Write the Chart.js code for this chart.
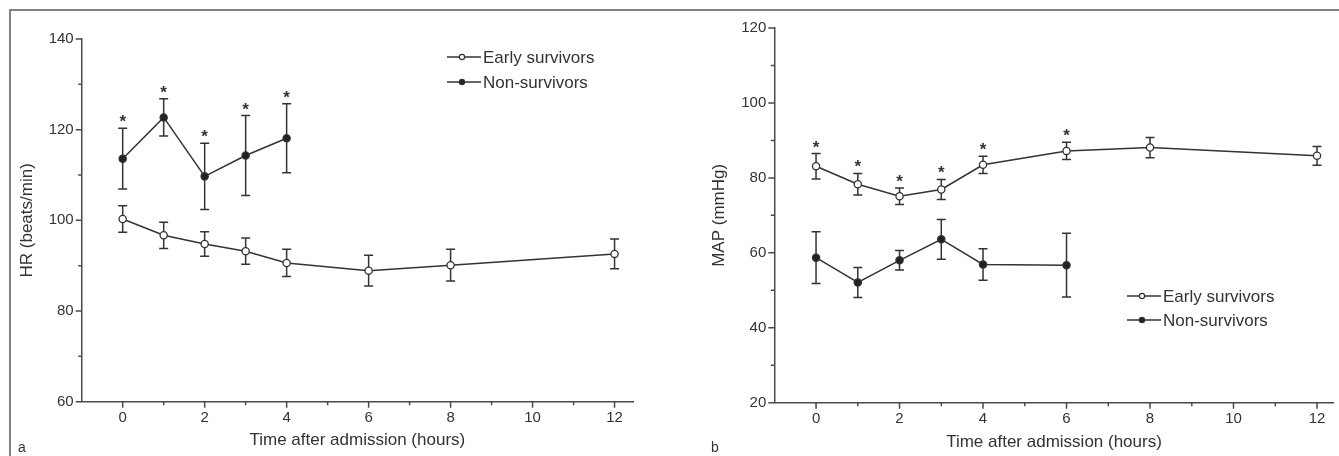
<!DOCTYPE html>
<html lang="en">
<head>
<meta charset="UTF-8">
<title>HR and MAP after admission</title>
<script src="https://cdn.jsdelivr.net/npm/chart.js"></script>
<style>
  html, body { margin: 0; padding: 0; background: #fff; }
  #page { position: relative; width: 1339px; height: 456px; overflow: hidden; font-family: Arial, "Liberation Sans", sans-serif; color: #333; }
  .panel { position: absolute; top: 0; }
  #panelA { left: 0; }
  #panelB { left: 670px; }
  .frame-top { position: absolute; left: 9px; top: 9px; width: 1330px; height: 2px; background: #808080; }
  .frame-left { position: absolute; left: 9px; top: 9px; width: 2px; height: 447px; background: #808080; }
  .tag { position: absolute; top: 439px; font-size: 14px; color: #333; }
</style>
</head>
<body>
<div id="page">
  <canvas id="panelA" class="panel" width="670" height="456"></canvas>
  <canvas id="panelB" class="panel" width="669" height="456"></canvas>
  <div class="frame-top"></div>
  <div class="frame-left"></div>
  <div class="tag" style="left:18px">a</div>
  <div class="tag" style="left:711px">b</div>
</div>

<script>
// ---- data ----
var hourTicks = [0, 1, 2, 3, 4, 5, 6, 7, 8, 9, 10, 11, 12];

// panel a: heart rate
var hrEarlyHours = [0, 1, 2, 3, 4, 6, 8, 12];
var hrEarly      = [100.3, 96.7, 94.8, 93.2, 90.6, 88.9, 90.1, 92.6];
var hrEarlyErr   = [2.9, 2.9, 2.7, 2.9, 3.0, 3.4, 3.5, 3.3];
var hrEarlySig   = [false, false, false, false, false, false, false, false];
var hrNonHours   = [0, 1, 2, 3, 4];
var hrNon        = [113.6, 122.7, 109.7, 114.3, 118.1];
var hrNonErr     = [6.7, 4.1, 7.3, 8.8, 7.6];
var hrNonSig     = [true, true, true, true, true];
var hrTicks      = [60, 70, 80, 90, 100, 110, 120, 130, 140];

// panel b: mean arterial pressure
var mapEarlyHours = [0, 1, 2, 3, 4, 6, 8, 12];
var mapEarly      = [83.1, 78.3, 75.1, 76.9, 83.5, 87.2, 88.1, 85.9];
var mapEarlyErr   = [3.4, 2.9, 2.2, 2.7, 2.3, 2.3, 2.7, 2.5];
var mapEarlySig   = [true, true, true, true, true, true, false, false];
var mapNonHours   = [0, 1, 2, 3, 4, 6];
var mapNon        = [58.7, 52.1, 58.0, 63.6, 56.9, 56.7];
var mapNonErr     = [6.9, 4.0, 2.6, 5.3, 4.2, 8.5];
var mapNonSig     = [false, false, false, false, false, false];
var mapTicks      = [20, 30, 40, 50, 60, 70, 80, 90, 100, 110, 120];

var ink = '#333';
var axisInk = '#4a4a4a';
Chart.defaults.font.family = 'Arial, "Liberation Sans", sans-serif';
Chart.defaults.color = ink;

function points(hours, vals) {
  return hours.map(function (h, i) { return { x: h, y: vals[i] }; });
}

// error bars under the lines, asterisks above them
var errorBars = {
  id: 'errorBars',
  beforeDatasetsDraw: function (chart) {
    var ctx = chart.ctx, x = chart.scales.x, y = chart.scales.y;
    ctx.save();
    ctx.strokeStyle = ink;
    ctx.lineWidth = 1.5;
    chart.data.datasets.forEach(function (ds) {
      ds.data.forEach(function (p, i) {
        var px = x.getPixelForValue(p.x);
        var top = y.getPixelForValue(p.y + ds.errors[i]);
        var bot = y.getPixelForValue(p.y - ds.errors[i]);
        ctx.beginPath();
        ctx.moveTo(px, top); ctx.lineTo(px, bot);
        ctx.moveTo(px - 4.5, top); ctx.lineTo(px + 4.5, top);
        ctx.moveTo(px - 4.5, bot); ctx.lineTo(px + 4.5, bot);
        ctx.stroke();
      });
    });
    ctx.restore();
  },
  afterDatasetsDraw: function (chart) {
    var ctx = chart.ctx, x = chart.scales.x, y = chart.scales.y;
    ctx.save();
    ctx.fillStyle = ink;
    ctx.font = 'bold 17px Arial, "Liberation Sans", sans-serif';
    ctx.textAlign = 'center';
    ctx.textBaseline = 'alphabetic';
    chart.data.datasets.forEach(function (ds) {
      ds.data.forEach(function (p, i) {
        if (!ds.sig[i]) return;
        var px = x.getPixelForValue(p.x);
        var top = y.getPixelForValue(p.y + ds.errors[i]);
        ctx.fillText('*', px, top - 1);
      });
    });
    ctx.restore();
  }
};

// short outward tick marks, longer at labelled values
var tickMarks = {
  id: 'tickMarks',
  afterDraw: function (chart) {
    var ctx = chart.ctx, x = chart.scales.x, y = chart.scales.y;
    ctx.save();
    ctx.strokeStyle = axisInk;
    ctx.lineWidth = 1.5;
    ctx.beginPath();
    x.ticks.forEach(function (t) {
      var px = x.getPixelForValue(t.value);
      var len = t.value % 2 === 0 ? 6 : 3.5;
      ctx.moveTo(px, x.top); ctx.lineTo(px, x.top + len);
    });
    y.ticks.forEach(function (t) {
      var py = y.getPixelForValue(t.value);
      var len = t.value % 20 === 0 ? 6 : 3.5;
      ctx.moveTo(y.right - len, py); ctx.lineTo(y.right, py);
    });
    ctx.stroke();
    ctx.restore();
  }
};

// legend drawn by hand so it can sit inside the plot
var sideLegend = {
  id: 'sideLegend',
  afterDraw: function (chart, args, opts) {
    var ctx = chart.ctx;
    ctx.save();
    ctx.font = '17px Arial, "Liberation Sans", sans-serif';
    ctx.textBaseline = 'middle';
    ctx.textAlign = 'left';
    chart.data.datasets.forEach(function (ds, i) {
      var ly = opts.y + i * opts.gap;
      ctx.strokeStyle = ink;
      ctx.lineWidth = 1.5;
      ctx.beginPath();
      ctx.moveTo(opts.x, ly); ctx.lineTo(opts.x + 34, ly);
      ctx.stroke();
      ctx.beginPath();
      ctx.arc(opts.x + 15, ly, 2.6, 0, Math.PI * 2);
      ctx.fillStyle = ds.pointBackgroundColor;
      ctx.fill();
      ctx.lineWidth = 1.2;
      ctx.stroke();
      ctx.fillStyle = ink;
      ctx.fillText(ds.label, opts.x + 36, ly + 1);
    });
    ctx.restore();
  }
};

function series(label, hours, vals, errs, sig, fill) {
  return {
    label: label,
    data: points(hours, vals),
    errors: errs,
    sig: sig,
    borderColor: ink,
    borderWidth: 1.5,
    pointRadius: 3.6,
    pointBorderWidth: 1.3,
    pointBorderColor: ink,
    pointBackgroundColor: fill,
    tension: 0,
    fill: false
  };
}

function makePanel(id, cfg) {
  return new Chart(document.getElementById(id), {
    type: 'line',
    data: { datasets: cfg.datasets },
    plugins: [errorBars, tickMarks, sideLegend],
    options: {
      responsive: false,
      animation: false,
      layout: { padding: { top: cfg.padTop, right: cfg.padRight, left: 0, bottom: 0 } },
      plugins: {
        legend: { display: false },
        tooltip: { enabled: false },
        sideLegend: cfg.legend
      },
      scales: {
        x: {
          type: 'linear',
          min: -1,
          max: cfg.xMax,
          afterBuildTicks: function (s) { s.ticks = hourTicks.map(function (v) { return { value: v }; }); },
          afterFit: function (s) { s.height = cfg.xHeight; },
          ticks: {
            autoSkip: false,
            maxRotation: 0,
            padding: 7,
            font: { size: 15 },
            color: ink,
            callback: function (v) { return v % 2 === 0 ? String(v) : ''; }
          },
          grid: { drawOnChartArea: false, drawTicks: false },
          border: { color: axisInk, width: 1.5 },
          title: { display: true, text: 'Time after admission (hours)', font: { size: 17 }, color: ink, padding: { top: 0, bottom: cfg.xTitlePad } }
        },
        y: {
          min: cfg.yTicks[0],
          max: cfg.yTicks[cfg.yTicks.length - 1],
          afterBuildTicks: function (s) { s.ticks = cfg.yTicks.map(function (v) { return { value: v }; }); },
          afterFit: function (s) { s.width = cfg.yWidth; },
          ticks: {
            autoSkip: false,
            padding: 8,
            font: { size: 15 },
            color: ink,
            callback: function (v) { return v % 20 === 0 ? String(v) : ''; }
          },
          grid: { drawOnChartArea: false, drawTicks: false },
          border: { color: axisInk, width: 1.5 },
          title: { display: true, text: cfg.yTitle, font: { size: 17 }, color: ink, padding: { top: cfg.yTitlePad, bottom: 0 } }
        }
      }
    }
  });
}

makePanel('panelA', {
  datasets: [
    series('Early survivors', hrEarlyHours, hrEarly, hrEarlyErr, hrEarlySig, '#fff'),
    series('Non-survivors', hrNonHours, hrNon, hrNonErr, hrNonSig, '#222')
  ],
  yTicks: hrTicks,
  yTitle: 'HR (beats/min)',
  xMax: 12.45,
  padTop: 39,
  padRight: 37,
  yWidth: 81.7,
  xHeight: 54.3,
  xTitlePad: 5,
  yTitlePad: 17.5,
  legend: { x: 447, y: 57, gap: 25 }
});

makePanel('panelB', {
  datasets: [
    series('Early survivors', mapEarlyHours, mapEarly, mapEarlyErr, mapEarlySig, '#fff'),
    series('Non-survivors', mapNonHours, mapNon, mapNonErr, mapNonSig, '#222')
  ],
  yTicks: mapTicks,
  yTitle: 'MAP (mmHg)',
  xMax: 12.4,
  padTop: 28,
  padRight: 0,
  yWidth: 104.3,
  xHeight: 53.3,
  xTitlePad: 3,
  yTitlePad: 39.5,
  legend: { x: 457, y: 296, gap: 24 }
});
</script>
</body>
</html>
